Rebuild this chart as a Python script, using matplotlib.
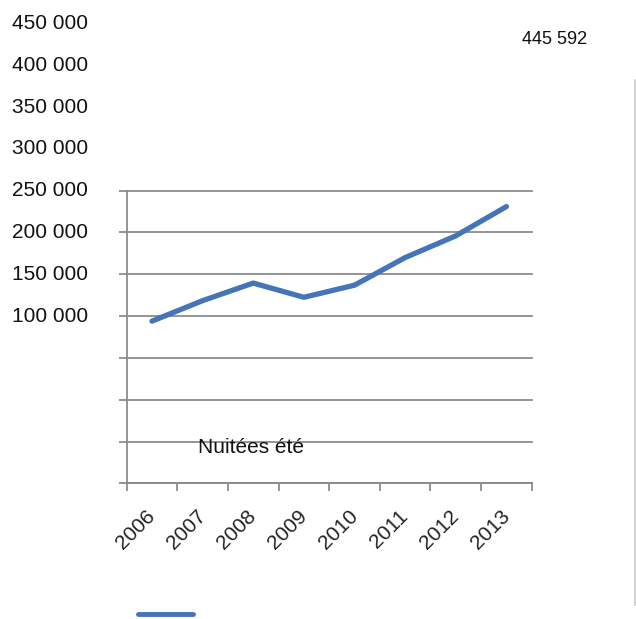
import matplotlib
matplotlib.use("Agg")
import matplotlib.pyplot as plt
from matplotlib.lines import Line2D
from matplotlib.transforms import ScaledTranslation

plt.rcParams['font.family'] = ['Liberation Sans', 'DejaVu Sans']

years = ['2006', '2007', '2008', '2009', '2010', '2011', '2012', '2013']
nuitees = [94000, 118500, 139500, 122500, 137000, 170000, 196000, 231000]
y_labels = [100000, 150000, 200000, 250000, 300000, 350000, 400000, 450000]
total_label = '445 592'
series_name = 'Nuitées été'

line_color = '#4674b8'
grid_color = '#8c8c8c'

W, H = 636, 619
fig = plt.figure(figsize=(W / 100, H / 100), dpi=100)
ax = fig.add_axes([126.7 / W, 1 - 483.3 / H, 405 / W, 292.6 / H])

x = list(range(len(years)))
ax.plot(x, nuitees, color=line_color, lw=3.8,
        solid_joinstyle='round', solid_capstyle='round')

ax.set_xlim(-0.5, len(years) - 0.5)
ax.set_ylim(-100000, 250000)

# horizontal grid with small tick marks on the left
ax.set_yticks(range(-100000, 250001, 50000))
ax.yaxis.grid(True, color=grid_color, lw=1.3)
ax.tick_params(axis='y', length=6, width=1.3, color=grid_color,
               labelleft=False)
for gl in ax.yaxis.get_gridlines():
    gl.set_clip_on(False)

# category boundaries as ticks, year names centred between them
ax.set_xticks([i - 0.5 for i in range(len(years) + 1)])
ax.tick_params(axis='x', which='major', length=6, width=1.3,
               color=grid_color, labelbottom=False)
ax.set_xticks(x, minor=True)
ax.set_xticklabels(years, minor=True, rotation=45, ha='right', va='top',
                   fontsize=15, color='#222222')
ax.tick_params(axis='x', which='minor', length=0, pad=17)
shift = ScaledTranslation(7 / 100, 0, fig.dpi_scale_trans)
for lbl in ax.get_xticklabels(minor=True):
    lbl.set_transform(lbl.get_transform() + shift)

for s in ['top', 'right']:
    ax.spines[s].set_visible(False)
for s in ['left', 'bottom']:
    ax.spines[s].set_color(grid_color)
    ax.spines[s].set_linewidth(1.3)

# value labels stacked on the left
for v in y_labels:
    txt = f'{v:,}'.replace(',', ' ')
    ax.text(-0.0956, v, txt, transform=ax.get_yaxis_transform(),
            ha='right', va='center', fontsize=15, color='#111111',
            clip_on=False)

ax.text(0.175, 0.123, series_name, transform=ax.transAxes, fontsize=15,
        color='#111111', ha='left', va='center')

fig.text(555 / W, 1 - 40 / H, total_label, fontsize=13, color='#111111',
         ha='center', va='center')

# legend swatch
fig.add_artist(Line2D([138 / W, 193 / W], [1 - 614 / H, 1 - 614 / H],
                      color=line_color, lw=3.5, solid_capstyle='round'))

# thin border on the right
fig.add_artist(Line2D([635 / W, 635 / W], [1 - 80 / H, 1 - 605 / H],
                      color='#cccccc', lw=1.2))

fig.savefig('out.png', dpi=100)
